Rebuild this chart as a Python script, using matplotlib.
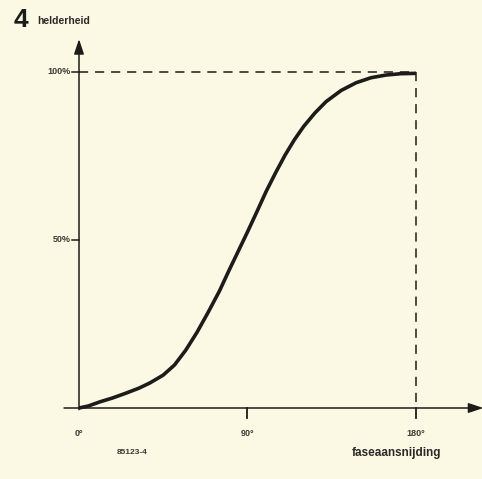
import matplotlib.pyplot as plt

fase = [0, 5, 11, 18, 25, 32, 38, 45, 51, 57, 63, 69, 75, 80, 85, 90, 95,
        100, 105, 110, 115, 120, 126, 132, 140, 148, 156, 164, 172, 180]
helderheid = [0, 0.6, 1.8, 3.0, 4.4, 5.9, 7.5, 9.8, 12.8, 17.2, 22.5, 28.5,
              34.8, 40.8, 46.6, 52.4, 58.4, 64.5, 70.0, 75.2, 79.8, 83.8,
              87.8, 91.2, 94.5, 96.8, 98.3, 99.1, 99.5, 99.6]

x_ticks = [0, 90, 180]
x_labels = ["0°", "90°", "180°"]
y_ticks = [50, 100]
y_labels = ["50%", "100%"]

W, H = 482, 479
bg = "#fbf9e3"
ink = "#1c1c1a"

fig = plt.figure(figsize=(W / 100, H / 100), dpi=100, facecolor=bg)
# assen: 0..180 graden -> px 79..416, 0..100% -> px 408..72
ax = fig.add_axes([79 / W, (H - 408) / H, (416 - 79) / W, (408 - 72) / H])
ax.set_facecolor(bg)
ax.set_xlim(0, 180)
ax.set_ylim(0, 100)
for s in ax.spines.values():
    s.set_visible(False)
ax.set_xticks([])
ax.set_yticks([])

font = "Liberation Sans"

# assen met pijlen
ax.annotate("", xy=(0, 109.8), xytext=(0, -0.5), annotation_clip=False,
            arrowprops=dict(arrowstyle="-|>,head_length=0.9,head_width=0.3",
                            color=ink, lw=1.1, shrinkA=0, shrinkB=0))
ax.annotate("", xy=(216, 0), xytext=(-8, 0), annotation_clip=False,
            arrowprops=dict(arrowstyle="-|>,head_length=0.9,head_width=0.3",
                            color=ink, lw=1.1, shrinkA=0, shrinkB=0))

# hulplijnen
ax.plot([0, 180], [100, 100], color=ink, lw=1.1, ls=(0, (6, 4.5)), clip_on=False)
ax.plot([180, 180], [100, 0], color=ink, lw=1.1, ls=(0, (6, 4.5)), clip_on=False)

# curve
ax.plot(fase, helderheid, color=ink, lw=2.6, solid_capstyle="butt",
        solid_joinstyle="round", clip_on=False)

# maatstreepjes en labels
for v, lab in zip(y_ticks, y_labels):
    ax.plot([-3.8, 0], [v, v], color=ink, lw=1.1, clip_on=False)
    ax.text(-4.5, v, lab, ha="right", va="center", fontsize=6.5,
            fontweight="bold", family=font, color="#3a3a36")
for v, lab in zip(x_ticks, x_labels):
    if v > 0:
        ax.plot([v, v], [0, -3], color=ink, lw=1.3, clip_on=False)
    ax.text(v, -7.5, lab, ha="center", va="center", fontsize=6.5,
            fontweight="bold", family=font, color="#3a3a36")

fig.text(14 / W, 1 - 20 / H, "4", fontsize=19, fontweight="bold", family=font,
         color=ink, ha="left", va="center")
fig.text(37 / W, 1 - 21 / H, "helderheid", fontsize=7.5, fontweight="bold",
         family=font, color="#2a2a28", ha="left", va="center")
fig.text(117 / W, 1 - 452 / H, "85123-4", fontsize=6, fontweight="bold",
         family=font, color="#3a3a36", ha="left", va="center")
fig.text(352 / W, 1 - 453 / H, "faseaansnijding", fontsize=8.5, fontweight="bold",
         family=font, color="#2a2a28", ha="left", va="center")

fig.savefig("out.png", dpi=100, facecolor=bg)
